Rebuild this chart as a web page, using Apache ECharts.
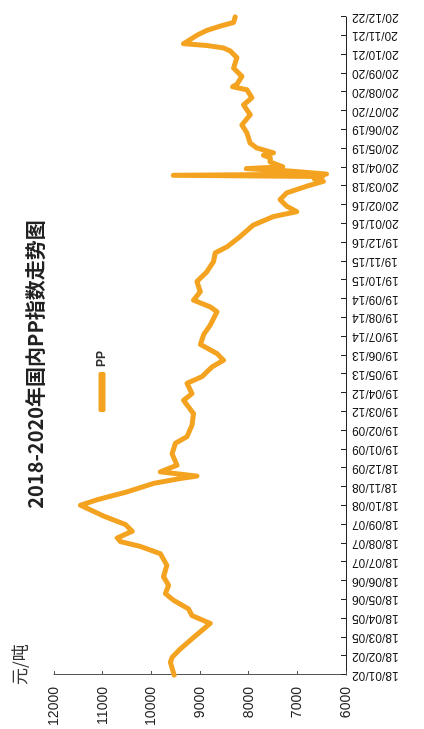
<!DOCTYPE html>
<html>
<head>
<meta charset="utf-8">
<script src="https://cdn.jsdelivr.net/npm/echarts@6/dist/echarts.min.js"></script>
<style>
  html, body { margin: 0; padding: 0; background: #fff; width: 424px; height: 729px; overflow: hidden; }
  /* chart is laid out landscape, then turned a quarter turn counter-clockwise onto the portrait page */
  #chart {
    position: absolute; left: 0; top: 0;
    width: 729px; height: 424px;
    transform-origin: 0 0;
    transform: translateY(729px) rotate(-90deg);
  }
</style>
</head>
<body>
<div id="chart"></div>
<script>
// Daily category axis: 2018-01-02 .. 2020-12-22
const firstDay = Date.UTC(2018, 0, 2);
const dayCount = 1086;
const labelEvery = 31;

// PP index readings: day number since 2018-01-02, value in 元/吨
const readDay = [
  0, 21, 29, 43, 62, 85, 98, 109, 123, 134, 148, 162, 181, 200, 212, 220, 226, 237, 248, 262,
  276, 280, 289, 302, 316, 324, 328, 335, 346, 365, 382, 393, 412, 431, 453, 464, 481, 492, 508, 519,
  530, 545, 561, 577, 599, 607, 618, 632, 649, 665, 682, 696, 706, 723, 742, 756, 764, 773, 784, 795,
  806, 814, 818, 822, 824, 826, 831, 835, 838, 846, 853, 857, 861, 869, 877, 894, 907, 924, 940, 952,
  965, 970, 974, 987, 1001, 1018, 1029, 1034, 1038, 1041, 1055, 1063, 1070, 1076, 1085
];
const readValue = [
  9530, 9610, 9575, 9405, 9130, 8790, 9165, 9235, 9540, 9710, 9645, 9750, 9680, 9815, 10225, 10635, 10700, 10395, 10530, 10978,
  11350, 11456, 11113, 10498, 9952, 9405, 9062, 9815, 9472, 9575, 9507, 9267, 9165, 9132, 9337, 9165, 9267, 8960, 8754, 8517,
  8652, 8990, 8927, 8789, 8652, 8789, 9132, 8995, 9062, 8857, 8722, 8687, 8447, 8174, 7901, 7491, 7011, 7216, 7354, 7216,
  6806, 6466, 6650, 6480, 9550, 6400, 7150, 8050, 7300, 7560, 7559, 7696, 7491, 7832, 7969, 8037, 8139, 7969, 8106, 7934,
  8037, 8330, 8242, 8139, 8311, 8242, 8379, 8517, 8857, 9337, 9062, 8857, 8584, 8311, 8276
];

const valueMin = 6000;
const valueMax = 12000;
const valueStep = 1000;

function pad2(n) { return (n < 10 ? '0' : '') + n; }
function dayLabel(i) {
  const d = new Date(firstDay + i * 86400000);
  return pad2(d.getUTCFullYear() % 100) + '/' + pad2(d.getUTCMonth() + 1) + '/' + pad2(d.getUTCDate());
}
const dates = [];
for (let i = 0; i < dayCount; i++) dates.push(dayLabel(i));

const seriesData = readDay.map((d, k) => [dates[d], readValue[k]]);

const chart = echarts.init(document.getElementById('chart'));
chart.setOption({
  animation: false,
  backgroundColor: '#fff',
  title: {
    text: '2018-2020年国内PP指数走势图',
    left: 'center',
    top: 20,
    textStyle: { fontSize: 20, fontWeight: 'bold', color: '#222', fontFamily: 'Noto Sans CJK SC' }
  },
  legend: {
    left: 312,
    top: 91,
    icon: 'roundRect',
    itemWidth: 40,
    itemHeight: 7,
    textStyle: { fontSize: 12, fontWeight: 'bold', color: '#333', fontFamily: 'Liberation Sans' },
    data: ['PP']
  },
  grid: { left: 54, right: 17, top: 54, bottom: 78, containLabel: false },
  xAxis: {
    type: 'category',
    data: dates,
    boundaryGap: false,
    axisLine: { lineStyle: { color: '#222', width: 1.2 } },
    axisTick: { inside: true, length: 5, interval: labelEvery - 1, lineStyle: { color: '#222' } },
    axisLabel: {
      interval: labelEvery - 1,
      rotate: 90,
      margin: 6,
      fontSize: 12,
      color: '#111',
      fontFamily: 'Liberation Sans'
    },
    splitLine: { show: false }
  },
  yAxis: {
    type: 'value',
    min: valueMin,
    max: valueMax,
    interval: valueStep,
    name: '元/吨',
    nameLocation: 'end',
    nameGap: 26,
    nameTextStyle: { fontSize: 17, color: '#333', align: 'left', padding: [0, 0, 0, -10], fontFamily: 'Noto Sans CJK SC' },
    axisLine: { show: true, lineStyle: { color: '#555', width: 1 } },
    axisTick: { show: true, inside: true, length: 4, lineStyle: { color: '#555' } },
    axisLabel: {
      fontSize: 14, margin: 12, color: '#222', fontFamily: 'Liberation Sans',
      formatter: v => String(v)
    },
    splitLine: { show: false }
  },
  series: [{
    name: 'PP',
    type: 'line',
    data: seriesData,
    showSymbol: false,
    symbol: 'none',
    color: '#F4A321',
    lineStyle: { width: 5, color: '#F4A321', join: 'round', cap: 'round' }
  }]
});
</script>
</body>
</html>
